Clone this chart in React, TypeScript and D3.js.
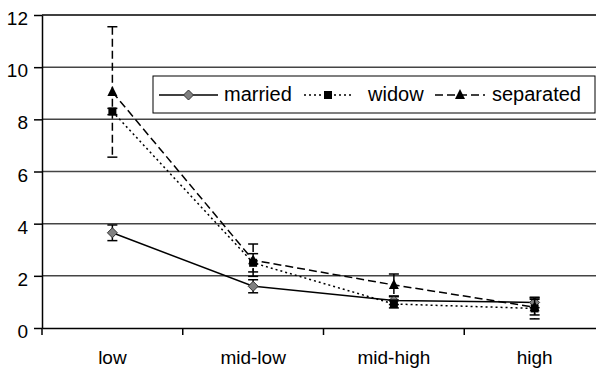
import React, { useEffect, useRef } from "react";
import * as d3 from "d3";

const categories = ["low", "mid-low", "mid-high", "high"];
const married = [3.65, 1.6, 1.05, 0.98];
const marriedErr = [0.3, 0.25, 0.15, 0.2];
const widow = [8.3, 2.5, 0.92, 0.75];
const widowErr = [0.12, 0.35, 0.15, 0.4];
const separated = [9.05, 2.6, 1.65, 0.8];
const separatedErr = [2.5, 0.62, 0.42, 0.3];
const yTicks = [0, 2, 4, 6, 8, 10, 12];

const series = [
  { name: "married", values: married, err: marriedErr, dash: null, marker: "diamond" },
  { name: "widow", values: widow, err: widowErr, dash: "2,3", marker: "square" },
  { name: "separated", values: separated, err: separatedErr, dash: "8,4", marker: "triangle" },
];

const FONT = "Liberation Sans, Arial, sans-serif";

const drawMarker = (g, type, cx, cy) => {
  if (type === "diamond") {
    g.append("path")
      .attr("d", `M${cx},${cy - 5}L${cx + 5},${cy}L${cx},${cy + 5}L${cx - 5},${cy}Z`)
      .attr("fill", "#808080")
      .attr("stroke", "#333")
      .attr("stroke-width", 1);
  } else if (type === "square") {
    g.append("rect")
      .attr("x", cx - 4)
      .attr("y", cy - 4)
      .attr("width", 8)
      .attr("height", 8)
      .attr("fill", "#000");
  } else {
    g.append("path")
      .attr("d", `M${cx},${cy - 6}L${cx + 5},${cy + 4}L${cx - 5},${cy + 4}Z`)
      .attr("fill", "#000");
  }
};

const App = () => {
  const ref = useRef(null);

  useEffect(() => {
    const width = 596;
    const height = 369;
    d3.select(ref.current).select("svg").remove();

    const svg = d3
      .select(ref.current)
      .append("svg")
      .attr("width", width)
      .attr("height", height)
      .style("position", "absolute")
      .style("left", 0)
      .style("top", 0)
      .style("font-family", FONT);

    const x = d3.scaleBand().domain(categories).range([42, 605]);
    const y = d3.scaleLinear().domain([0, 12]).range([328, 15]);

    // gridlines
    svg
      .selectAll(".grid")
      .data(yTicks.filter((d) => d > 0))
      .enter()
      .append("line")
      .attr("x1", 42)
      .attr("x2", 605)
      .attr("y1", (d) => y(d))
      .attr("y2", (d) => y(d))
      .attr("stroke", (d) => (d === 12 ? "#000" : "#444"))
      .attr("stroke-width", 1.5);

    // Y axis
    const yAxis = svg
      .append("g")
      .attr("transform", "translate(42,0)")
      .call(d3.axisLeft(y).tickValues(yTicks).tickSize(8).tickSizeOuter(0));
    yAxis.select(".domain").attr("stroke", "#000").attr("stroke-width", 1.5);
    yAxis.selectAll(".tick line").attr("stroke-width", 1.5);
    yAxis
      .selectAll("text")
      .attr("font-size", 19)
      .attr("font-family", FONT)
      .attr("x", -14)
      .attr("dy", "0.5em")
      .attr("fill", "#000");

    // X axis
    const xAxis = svg
      .append("g")
      .attr("transform", "translate(0,328)")
      .call(d3.axisBottom(x).tickSize(0).tickSizeOuter(0));
    xAxis.select(".domain").attr("stroke", "#000").attr("stroke-width", 1.5);
    xAxis
      .selectAll("text")
      .attr("font-size", 19)
      .attr("font-family", FONT)
      .attr("y", 36)
      .attr("dy", 0)
      .attr("fill", "#000");
    // category boundary ticks
    svg
      .selectAll(".xtick")
      .data(categories)
      .enter()
      .append("line")
      .attr("x1", (d) => x(d))
      .attr("x2", (d) => x(d))
      .attr("y1", 328)
      .attr("y2", 335)
      .attr("stroke", "#000")
      .attr("stroke-width", 1.5);

    const cx = (i) => x(categories[i]) + x.bandwidth() / 2;

    series.forEach((s) => {
      const line = d3
        .line()
        .x((d, i) => cx(i))
        .y((d) => y(d));
      svg
        .append("path")
        .datum(s.values)
        .attr("fill", "none")
        .attr("stroke", "#000")
        .attr("stroke-width", 1.5)
        .attr("stroke-dasharray", s.dash)
        .attr("d", line);

      const g = svg.append("g");
      s.values.forEach((v, i) => {
        const px = cx(i);
        const top = y(v + s.err[i]);
        const bot = y(v - s.err[i]);
        g.append("line")
          .attr("x1", px)
          .attr("x2", px)
          .attr("y1", top)
          .attr("y2", bot)
          .attr("stroke", "#000")
          .attr("stroke-width", 1.5)
          .attr("stroke-dasharray", s.dash);
        [top, bot].forEach((yy) => {
          g.append("line")
            .attr("x1", px - 5)
            .attr("x2", px + 5)
            .attr("y1", yy)
            .attr("y2", yy)
            .attr("stroke", "#000")
            .attr("stroke-width", 1.5);
        });
        drawMarker(g, s.marker, px, y(v));
      });
    });

    // Legend
    const legend = svg.append("g");
    legend
      .append("rect")
      .attr("x", 153)
      .attr("y", 76)
      .attr("width", 442)
      .attr("height", 37)
      .attr("fill", "#fff")
      .attr("stroke", "#000")
      .attr("stroke-width", 1);
    const items = [
      { s: series[0], lx: 159, len: 59, tx: 224 },
      { s: series[1], lx: 304, len: 48, tx: 368 },
      { s: series[2], lx: 435, len: 50, tx: 492 },
    ];
    items.forEach(({ s, lx, len, tx }) => {
      legend
        .append("line")
        .attr("x1", lx)
        .attr("x2", lx + len)
        .attr("y1", 95)
        .attr("y2", 95)
        .attr("stroke", "#000")
        .attr("stroke-width", 1.5)
        .attr("stroke-dasharray", s.dash);
      drawMarker(legend, s.marker, lx + len / 2, 95);
      legend
        .append("text")
        .attr("x", tx)
        .attr("y", 101)
        .attr("font-size", 20)
        .attr("fill", "#000")
        .text(s.name);
    });
  }, []);

  return <div ref={ref}></div>;
};

export default App;
